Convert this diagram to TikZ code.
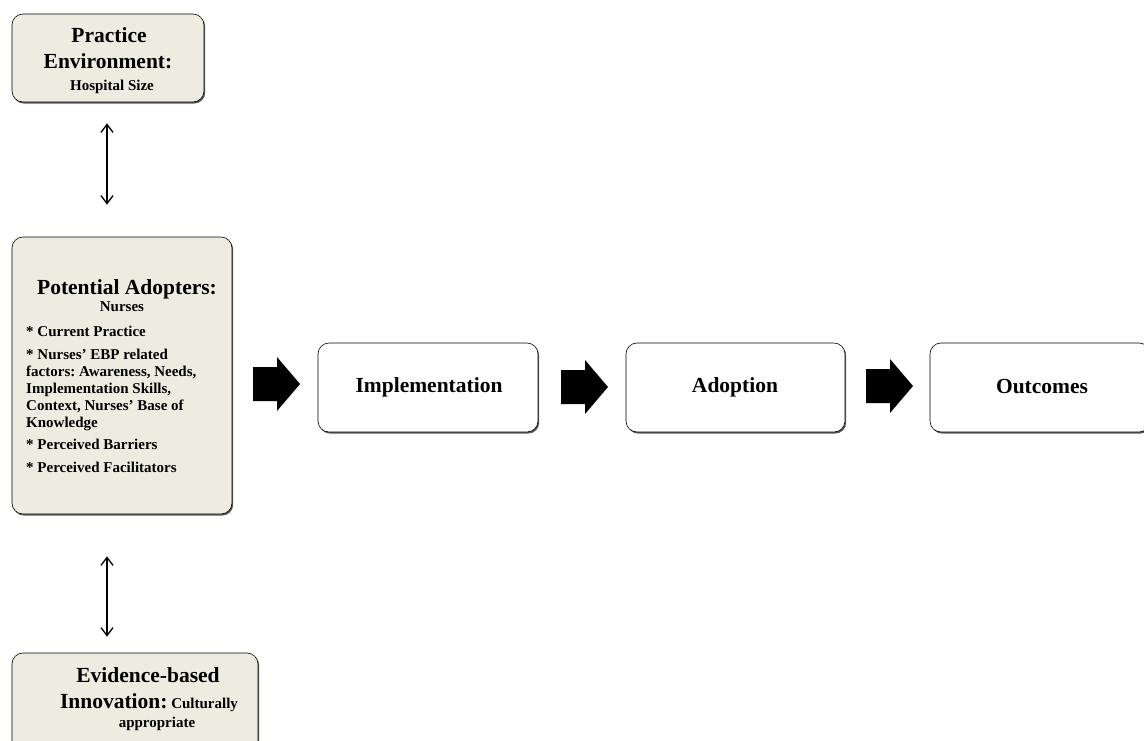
\documentclass[tikz,border=0pt]{standalone}
\usepackage{fontspec}
\setmainfont{Liberation Serif}
\usetikzlibrary{arrows.meta,shadows}
\definecolor{boxfill}{HTML}{EEECE1}
\frenchspacing
\begin{document}
\begin{tikzpicture}[x=1pt,y=-1pt,
  bx/.style={draw=black, line width=0.6pt, rounded corners=11pt, fill=boxfill, inner sep=0pt,
    drop shadow={shadow xshift=1.2pt, shadow yshift=-1.6pt, fill=black!65, opacity=1}},
  wbx/.style={bx, fill=white},
  big/.style={font=\fontsize{21.5}{26}\selectfont\bfseries, inner sep=0pt, anchor=base},
  small/.style={font=\fontsize{15}{17}\selectfont\bfseries, inner sep=0pt, anchor=base},
  lst/.style={small, anchor=base west},
  blk/.style={fill=black},
  dbl/.style={<->, >={Straight Barb[length=8pt,width=12pt,line width=1.3pt]}, line width=1.5pt}]
\useasboundingbox (0,0) rectangle (1144,740);

% boxes
\node[bx, minimum width=192pt, minimum height=88pt] (pe) at (108,58) {};
\node[bx, minimum width=220pt, minimum height=277pt] (pa) at (122,375.5) {};
\node[bx, minimum width=246pt, minimum height=110pt] (ev) at (135,708) {};
\node[wbx, minimum width=220pt, minimum height=89pt] (im) at (428,387.5) {};
\node[wbx, minimum width=219pt, minimum height=89pt] (ad) at (735.5,387.5) {};
\node[wbx, minimum width=220pt, minimum height=89pt] (oc) at (1040,387.5) {};

% texts box 1
\node[big] (t1) at (109,42.5) {Practice};
\node[big] (t2) at (108,68) {Environment:};
\node[small] (t3) at (112,90) {Hospital Size};

% texts box 2
\node[big] (t4) at (127,294) {Potential Adopters:};
\node[small] (t5) at (122,311) {Nurses};
\node[lst] (l1) at (26,336) {* Current Practice};
\node[lst] (l2) at (26,359) {* Nurses’ EBP related};
\node[lst] (l3) at (26,376) {factors: Awareness, Needs,};
\node[lst] (l4) at (26,393) {Implementation Skills,};
\node[lst] (l5) at (26,410) {Context, Nurses’ Base of};
\node[lst] (l6) at (26,427) {Knowledge};
\node[lst] (l7) at (26,449) {* Perceived Barriers};
\node[lst] (l8) at (26,472) {* Perceived Facilitators};

% texts box 3
\node[big] (t6) at (148,682) {Evidence-based};
\node[big] (t7) at (149,708) {Innovation:\fontsize{15}{17}\selectfont\bfseries\ Culturally};
\node[small] (t8) at (157,727) {appropriate};

% flow box texts
\node[big] (t9) at (429,392) {Implementation};
\node[big] (t10) at (735,392) {Adoption};
\node[big] (t11) at (1042,393) {Outcomes};

% block arrows
\coordinate (a1) at (253,384);
\coordinate (a2) at (561,387);
\coordinate (a3) at (866,386);
\foreach \c in {a1,a2,a3}
  \fill[blk] (\c) ++(0,-17) -- ++(24,0) -- ++(0,-10) -- ++(23,27) -- ++(-23,27) -- ++(0,-10) -- ++(-24,0) -- cycle;

% double arrows
\draw[dbl, shorten <=21pt, shorten >=32pt] (pe.south -| 107,0) -- (pa.north -| 107,0);
\draw[dbl, shorten <=42pt, shorten >=16pt] (pa.south -| 107,0) -- (ev.north -| 107,0);
\end{tikzpicture}
\end{document}
